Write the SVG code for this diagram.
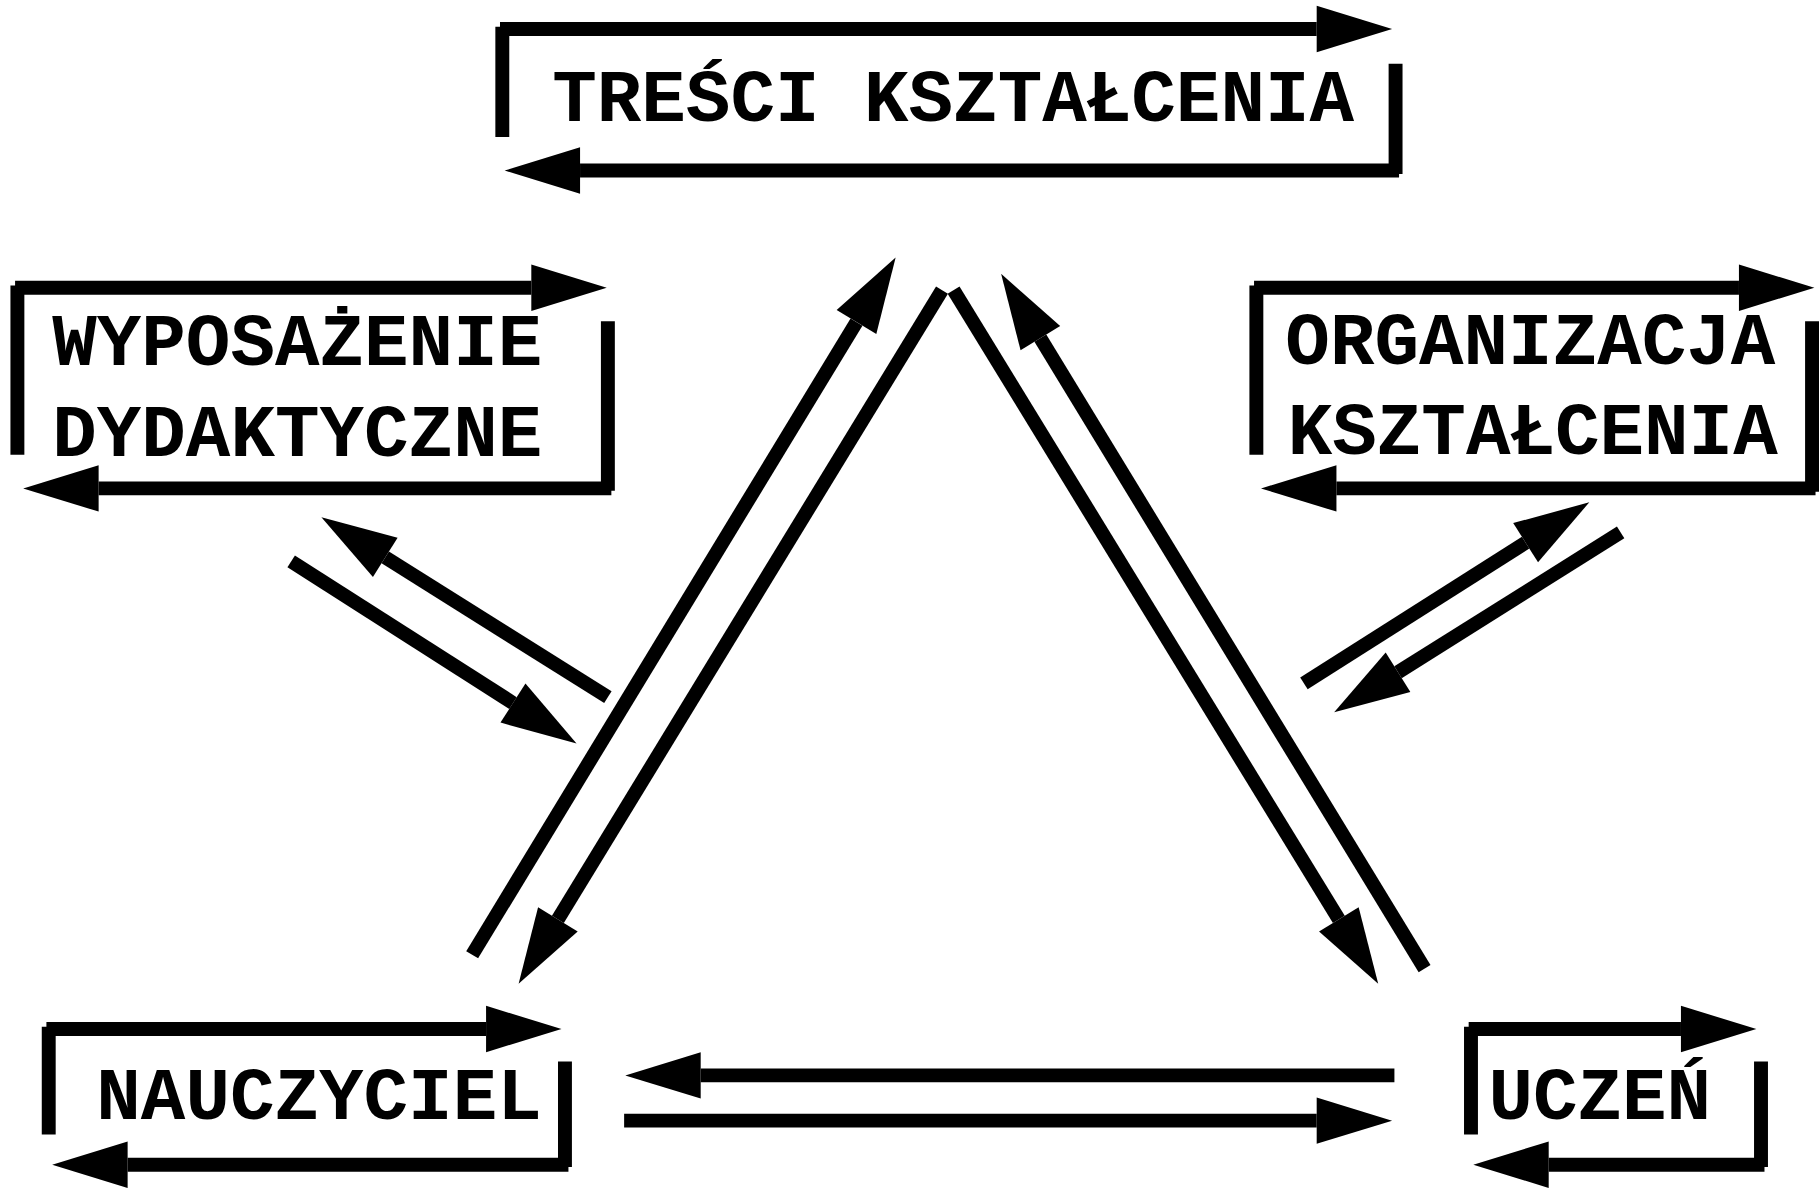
<svg xmlns="http://www.w3.org/2000/svg" width="1819" height="1193" viewBox="0 0 1819 1193">
<defs>
<style>
.ln{stroke:#000;stroke-width:12;fill:none;stroke-linecap:butt}
.ar{marker-end:url(#ah)}
.t{font-family:"Liberation Mono","Courier New",monospace;font-weight:bold;font-size:64px;fill:#000}
</style>
<marker id="ah" markerUnits="userSpaceOnUse" markerWidth="70" markerHeight="44" refX="0" refY="20" orient="auto" overflow="visible">
<path d="M0,0 L65,20 L0,40 z" fill="#000"/>
</marker>
</defs>
<rect width="1819" height="1193" fill="#fff"/>
<g transform="scale(1.16008)">
<g id="tresci">
<line class="ln ar" x1="431" y1="25" x2="1135" y2="25"/>
<line class="ln" x1="433" y1="23" x2="433" y2="118"/>
<line class="ln" x1="1203" y1="55" x2="1203" y2="150"/>
<line class="ln ar" x1="1206" y1="147" x2="500" y2="147"/>
<text class="t" x="476" y="104">TREŚCI KSZTAŁCENIA</text>
</g>
<g id="wyposazenie">
<line class="ln ar" x1="13" y1="248" x2="458" y2="248"/>
<line class="ln" x1="15" y1="246" x2="15" y2="392"/>
<line class="ln" x1="524" y1="277" x2="524" y2="423"/>
<line class="ln ar" x1="527" y1="421" x2="85" y2="421"/>
<text class="t" x="45" y="315">WYPOSAŻENIE</text>
<text class="t" x="45" y="393">DYDAKTYCZNE</text>
</g>
<g id="organizacja">
<line class="ln ar" x1="1081" y1="248" x2="1499" y2="248"/>
<line class="ln" x1="1083" y1="246" x2="1083" y2="392"/>
<line class="ln" x1="1562" y1="277" x2="1562" y2="424"/>
<line class="ln ar" x1="1565" y1="421" x2="1152" y2="421"/>
<text class="t" x="1108" y="314">ORGANIZACJA</text>
<text class="t" x="1110" y="391">KSZTAŁCENIA</text>
</g>
<g id="nauczyciel">
<line class="ln ar" x1="40" y1="887" x2="419" y2="887"/>
<line class="ln" x1="42" y1="885" x2="42" y2="978"/>
<line class="ln" x1="487" y1="915" x2="487" y2="1006"/>
<line class="ln ar" x1="490" y1="1004" x2="110" y2="1004"/>
<text class="t" x="83" y="965">NAUCZYCIEL</text>
</g>
<g id="uczen">
<line class="ln ar" x1="1266" y1="887" x2="1449" y2="887"/>
<line class="ln" x1="1268" y1="885" x2="1268" y2="978"/>
<line class="ln" x1="1518" y1="915" x2="1518" y2="1006"/>
<line class="ln ar" x1="1521" y1="1004" x2="1335" y2="1004"/>
<text class="t" x="1283" y="965">UCZEŃ</text>
</g>
<g id="connectors">
<line class="ln ar" x1="407" y1="823" x2="738.3" y2="277.6"/>
<line class="ln ar" x1="812" y1="250" x2="480.9" y2="792.5"/>
<line class="ln ar" x1="1228" y1="835" x2="896.8" y2="291.5"/>
<line class="ln ar" x1="822" y1="250" x2="1154.1" y2="792.6"/>
<line class="ln ar" x1="1202" y1="927" x2="604" y2="927"/>
<line class="ln ar" x1="538" y1="966" x2="1135" y2="966"/>
<line class="ln ar" x1="524" y1="601" x2="332.1" y2="480.5"/>
<line class="ln ar" x1="251" y1="484" x2="442.2" y2="606"/>
<line class="ln ar" x1="1124" y1="589" x2="1315.1" y2="467.8"/>
<line class="ln ar" x1="1397" y1="459" x2="1205.1" y2="579.5"/>
</g>
</g>
</svg>
